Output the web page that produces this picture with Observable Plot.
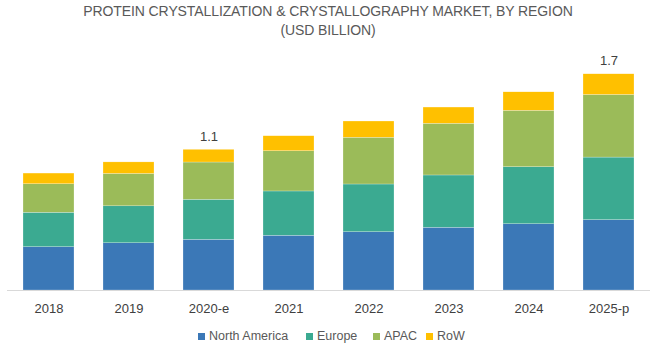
<!DOCTYPE html>
<html>
<head>
<meta charset="utf-8">
<script src="https://cdn.jsdelivr.net/npm/d3@7"></script>
<script src="https://cdn.jsdelivr.net/npm/@observablehq/plot@0.6"></script>
<style>
  html, body { margin: 0; padding: 0; background: #fff; }
  body { width: 650px; height: 355px; font-family: "Liberation Sans", Arial, sans-serif; overflow: hidden; }
  #title { height: 44px; box-sizing: border-box; padding-top: 2px; text-align: center; color: #595959; font-size: 14px; line-height: 19px; letter-spacing: -0.1px; padding-left: 6px; }
  #chart svg { display: block; }
  #legend { position: relative; height: 31px; font-size: 12.5px; color: #595959; }
  .item { position: absolute; top: 5px; display: flex; align-items: center; white-space: nowrap; }
  .sw { width: 7px; height: 7px; margin-right: 4px; }
</style>
</head>
<body>
<div id="title">PROTEIN CRYSTALLIZATION &amp; CRYSTALLOGRAPHY MARKET, BY REGION<br>(USD BILLION)</div>
<div id="chart"></div>
<div id="legend"></div>
<script>
const years = ["2018", "2019", "2020-e", "2021", "2022", "2023", "2024", "2025-p"];
const seriesNames = ["North America", "Europe", "APAC", "RoW"];
const northAmerica = [0.341, 0.372, 0.399, 0.431, 0.459, 0.494, 0.522, 0.554];
const europe       = [0.271, 0.291, 0.315, 0.349, 0.376, 0.412, 0.449, 0.493];
const apac         = [0.225, 0.255, 0.294, 0.317, 0.368, 0.407, 0.444, 0.493];
const rowRegion    = [0.084, 0.091, 0.100, 0.118, 0.128, 0.128, 0.146, 0.163];
const totalLabels  = ["", "", "1.1", "", "", "", "", "1.7"];
const colors = ["#3b78b7", "#3baa91", "#9bbb59", "#ffc000"];

const seriesValues = [northAmerica, europe, apac, rowRegion];
const table = [];
seriesNames.forEach((s, si) => {
  years.forEach((y, i) => table.push({year: y, series: s, value: seriesValues[si][i]}));
});
const totals = years.map((y, i) => ({
  year: y,
  total: seriesValues.reduce((a, arr) => a + arr[i], 0),
  label: totalLabels[i]
}));

const chart = Plot.plot({
  width: 650,
  height: 280,
  marginTop: 20,
  marginBottom: 34,
  marginLeft: 7,
  marginRight: 0,
  style: { fontFamily: "'Liberation Sans', Arial, sans-serif", background: "transparent" },
  x: { domain: years, paddingInner: 0.36, paddingOuter: 0.19, label: null },
  y: { domain: [0, 1.78], axis: null },
  color: { domain: seriesNames, range: colors },
  marks: [
    Plot.barY(table, { x: "year", y: "value", fill: "series", stroke: "#ffffff", strokeWidth: 0.4, strokeOpacity: 0.6 }),
    Plot.ruleY([0], { stroke: "#d9d9d9", strokeWidth: 1 }),
    Plot.axisX({ tickSize: 0, tickPadding: 13, fontSize: 13, fill: "#404040", label: null }),
    Plot.text(totals, { x: "year", y: "total", text: "label", dy: -13, fontSize: 13, fill: "#404040" })
  ]
});
document.getElementById("chart").appendChild(chart);

const legendLeft = [198, 306, 373, 426];
const legend = document.getElementById("legend");
seriesNames.forEach((s, i) => {
  const it = document.createElement("div");
  it.className = "item";
  it.style.left = legendLeft[i] + "px";
  const sw = document.createElement("span");
  sw.className = "sw";
  sw.style.background = colors[i];
  const tx = document.createElement("span");
  tx.textContent = s;
  it.appendChild(sw);
  it.appendChild(tx);
  legend.appendChild(it);
});
</script>
</body>
</html>
